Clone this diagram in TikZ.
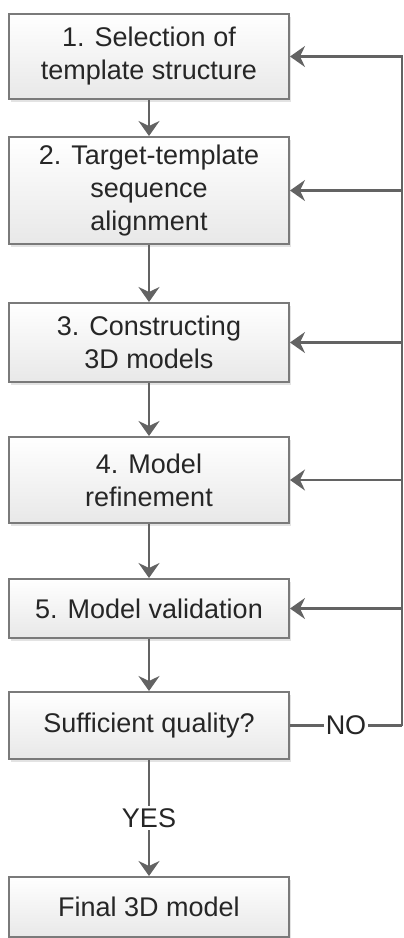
\documentclass[tikz,border=0pt]{standalone}
\usepackage{fontspec}
\setmainfont{Liberation Sans}
\usetikzlibrary{arrows.meta,shadows}

\definecolor{linegray}{HTML}{636363}
\definecolor{boxgray}{HTML}{7A7A7A}
\definecolor{textgray}{HTML}{262626}

\tikzset{
	stepbox/.style={draw=boxgray, line width=2pt, top color=white, bottom color=black!9,
		minimum width=280pt, text=textgray, font=\fontsize{27}{33}\selectfont, align=center,
		drop shadow={shadow xshift=2pt, shadow yshift=-2.5pt, opacity=0.22}},
	conn/.style={draw=linegray, line width=2.3pt},
	arr/.style={conn, -{Stealth[length=15pt, width=21pt, inset=5pt]}},
	lbl/.style={fill=white, text=textgray, font=\fontsize{27}{30}\selectfont, inner sep=2pt}
}

\begin{document}
\begin{tikzpicture}[x=1pt,y=-1pt]
		\useasboundingbox (0,0) rectangle (404,938);

		\node[stepbox, minimum height=85pt] (sel) at (149,56.5) {1. Selection of\\template structure};
		\node[stepbox, minimum height=107pt] (align) at (149,190.5) {2. Target-template\\sequence\\alignment};
		\node[stepbox, minimum height=79pt] (build) at (149,342.5) {3. Constructing\\3D models};
		\node[stepbox, minimum height=86pt] (refine) at (149,480) {4. Model\\refinement};
		\node[stepbox, minimum height=59pt] (valid) at (149,608.5) {5. Model validation};
		\node[stepbox, minimum height=67pt] (check) at (149,725.5) {Sufficient quality?};
		\node[stepbox, minimum height=60pt] (final) at (149,907) {Final 3D model};

		\draw[arr] (sel) -- (align);
		\draw[arr] (align) -- (build);
		\draw[arr] (build) -- (refine);
		\draw[arr] (refine) -- (valid);
		\draw[arr] (valid) -- (check);
		\draw[arr] (check) -- node[lbl] {YES} (final);

		\coordinate (back) at (402,725.5);
		\draw[conn] (check.east) -- node[lbl] {NO} (back);
		\draw[arr] (back) |- (sel.east);
		\draw[arr] (back |- align.east) -- (align.east);
		\draw[arr] (back |- build.east) -- (build.east);
		\draw[arr] (back |- refine.east) -- (refine.east);
		\draw[arr] (back |- valid.east) -- (valid.east);
\end{tikzpicture}
\end{document}
